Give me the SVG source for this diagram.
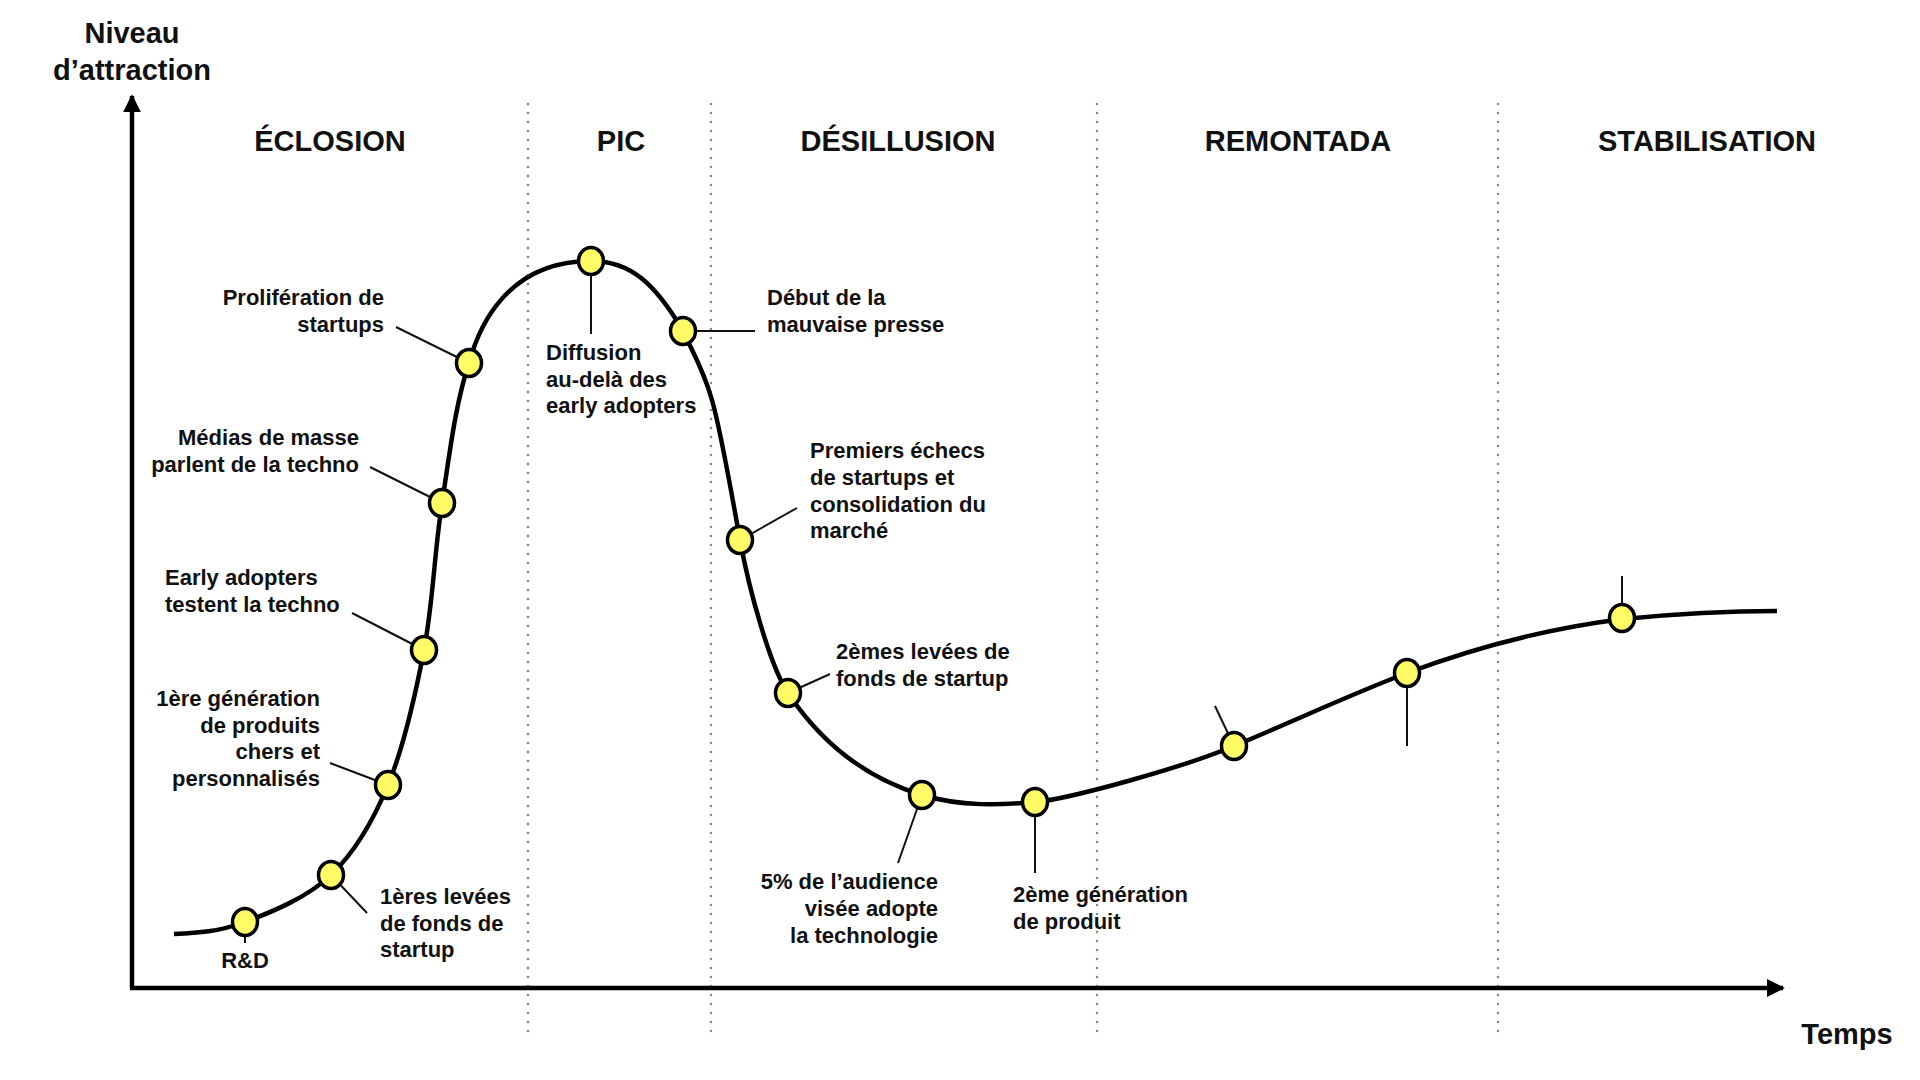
<svg xmlns="http://www.w3.org/2000/svg" width="1920" height="1080" viewBox="0 0 1920 1080">
<style>
text{font-family:"Liberation Sans",Arial,Helvetica,sans-serif;font-weight:bold;fill:#111}
.lbl{font-size:22px}
.ttl{font-size:29px}
.ax{font-size:29px}
.r{text-anchor:end}
.m{text-anchor:middle}
.dot{fill:#FFFC66;stroke:#000;stroke-width:3.5}
.lead{stroke:#111;stroke-width:2;fill:none}
.sep{stroke:#888;stroke-width:2.6;stroke-dasharray:0 9;stroke-linecap:round}
.axis{stroke:#000;stroke-width:4.5;fill:none}
.curve{stroke:#000;stroke-width:4.5;fill:none}
</style>
<defs>
<marker id="arr" viewBox="0 0 10 10" refX="9" refY="5" markerWidth="4" markerHeight="4" markerUnits="strokeWidth" orient="auto">
<path d="M0,0 L10,5 L0,10 Z" fill="#000"/>
</marker>
</defs>
<rect width="1920" height="1080" fill="#fff"/>
<g id="separators">
<line class="sep" x1="528" y1="104" x2="528" y2="1032"/>
<line class="sep" x1="711" y1="104" x2="711" y2="1032"/>
<line class="sep" x1="1097" y1="104" x2="1097" y2="1032"/>
<line class="sep" x1="1498" y1="104" x2="1498" y2="1032"/>
</g>
<g id="axes">
<path class="axis" d="M132,988 L132,96" marker-end="url(#arr)"/>
<path class="axis" d="M130,988 L1783,988" marker-end="url(#arr)"/>
<text class="ax m" x="132" y="43">Niveau</text>
<text class="ax m" x="132" y="80">d’attraction</text>
<text class="ax m" x="1847" y="1044">Temps</text>
</g>
<g id="phases">
<text class="ttl m" x="330" y="151">ÉCLOSION</text>
<text class="ttl m" x="621" y="151">PIC</text>
<text class="ttl m" x="898" y="151">DÉSILLUSION</text>
<text class="ttl m" x="1298" y="151">REMONTADA</text>
<text class="ttl m" x="1707" y="151">STABILISATION</text>
</g>
<g id="connectors">
<path class="curve" d="M174,934 C198,933 218.8,931.8 245,922 C271.2,912.2 307.2,897.8 331,875 C354.8,852.2 372.5,822.5 388,785 C403.5,747.5 415,697 424,650 C433,603 434.5,550.8 442,503 C449.5,455.2 455,405 469,363 C478,330 505,261 591,261 C630,261 655,283 683,331 C693,353 703,368.5 712,400 C721,431.5 731,490.5 740,540 C749,589.5 770,666 788,693 C826,750 872,780 922,795 C962,807 1000,805 1035,802 C1070,799 1184,767 1234,746 C1292,722 1349,695 1407,673 C1479,646 1551,628 1623,619 C1674,614 1727,611 1777,611"/>
<line class="lead" x1="245" y1="922" x2="245" y2="943"/>
<line class="lead" x1="331" y1="875" x2="367" y2="913"/>
<line class="lead" x1="388" y1="785" x2="330" y2="763"/>
<line class="lead" x1="424" y1="650" x2="352" y2="613"/>
<line class="lead" x1="442" y1="503" x2="370" y2="467"/>
<line class="lead" x1="469" y1="363" x2="396" y2="327"/>
<line class="lead" x1="591" y1="261" x2="591" y2="334"/>
<line class="lead" x1="683" y1="331" x2="755" y2="331"/>
<line class="lead" x1="740" y1="540" x2="797" y2="508"/>
<line class="lead" x1="788" y1="693" x2="830" y2="674"/>
<line class="lead" x1="922" y1="795" x2="898" y2="863"/>
<line class="lead" x1="1035" y1="802" x2="1035" y2="873"/>
<line class="lead" x1="1234" y1="746" x2="1215" y2="706"/>
<line class="lead" x1="1407" y1="673" x2="1407" y2="746"/>
<line class="lead" x1="1622" y1="618" x2="1622" y2="576"/>
</g>
<g id="n-rd">
<ellipse class="dot" cx="245" cy="922" rx="12.5" ry="13.5"/>
<text class="lbl m" x="245" y="968">R&amp;D</text>
</g>
<g id="n-levees1">
<ellipse class="dot" cx="331" cy="875" rx="12.5" ry="13.5"/>
<text class="lbl" x="380" y="904">1ères levées</text>
<text class="lbl" x="380" y="931">de fonds de</text>
<text class="lbl" x="380" y="957">startup</text>
</g>
<g id="n-gen1">
<ellipse class="dot" cx="388" cy="785" rx="12.5" ry="13.5"/>
<text class="lbl r" x="320" y="706">1ère génération</text>
<text class="lbl r" x="320" y="733">de produits</text>
<text class="lbl r" x="320" y="759">chers et</text>
<text class="lbl r" x="320" y="786">personnalisés</text>
</g>
<g id="n-early">
<ellipse class="dot" cx="424" cy="650" rx="12.5" ry="13.5"/>
<text class="lbl" x="165" y="585">Early adopters</text>
<text class="lbl" x="165" y="612">testent la techno</text>
</g>
<g id="n-medias">
<ellipse class="dot" cx="442" cy="503" rx="12.5" ry="13.5"/>
<text class="lbl r" x="359" y="445">Médias de masse</text>
<text class="lbl r" x="359" y="472">parlent de la techno</text>
</g>
<g id="n-prolif">
<ellipse class="dot" cx="469" cy="363" rx="12.5" ry="13.5"/>
<text class="lbl r" x="384" y="305">Prolifération de</text>
<text class="lbl r" x="384" y="332">startups</text>
</g>
<g id="n-diffusion">
<ellipse class="dot" cx="591" cy="261" rx="12.5" ry="13.5"/>
<text class="lbl" x="546" y="360">Diffusion</text>
<text class="lbl" x="546" y="387">au-delà des</text>
<text class="lbl" x="546" y="413">early adopters</text>
</g>
<g id="n-presse">
<ellipse class="dot" cx="683" cy="331" rx="12.5" ry="13.5"/>
<text class="lbl" x="767" y="305">Début de la</text>
<text class="lbl" x="767" y="332">mauvaise presse</text>
</g>
<g id="n-echecs">
<ellipse class="dot" cx="740" cy="540" rx="12.5" ry="13.5"/>
<text class="lbl" x="810" y="458">Premiers échecs</text>
<text class="lbl" x="810" y="485">de startups et</text>
<text class="lbl" x="810" y="512">consolidation du</text>
<text class="lbl" x="810" y="538">marché</text>
</g>
<g id="n-levees2">
<ellipse class="dot" cx="788" cy="693" rx="12.5" ry="13.5"/>
<text class="lbl" x="836" y="659">2èmes levées de</text>
<text class="lbl" x="836" y="686">fonds de startup</text>
</g>
<g id="n-audience">
<ellipse class="dot" cx="922" cy="795" rx="12.5" ry="13.5"/>
<text class="lbl r" x="938" y="889">5% de l’audience</text>
<text class="lbl r" x="938" y="916">visée adopte</text>
<text class="lbl r" x="938" y="943">la technologie</text>
</g>
<g id="n-gen2">
<ellipse class="dot" cx="1035" cy="802" rx="12.5" ry="13.5"/>
<text class="lbl" x="1013" y="902">2ème génération</text>
<text class="lbl" x="1013" y="929">de produit</text>
</g>
<g id="n-r1">
<ellipse class="dot" cx="1234" cy="746" rx="12.5" ry="13.5"/>
</g>
<g id="n-r2">
<ellipse class="dot" cx="1407" cy="673" rx="12.5" ry="13.5"/>
</g>
<g id="n-s1">
<ellipse class="dot" cx="1622" cy="618" rx="12.5" ry="13.5"/>
</g>
</svg>
